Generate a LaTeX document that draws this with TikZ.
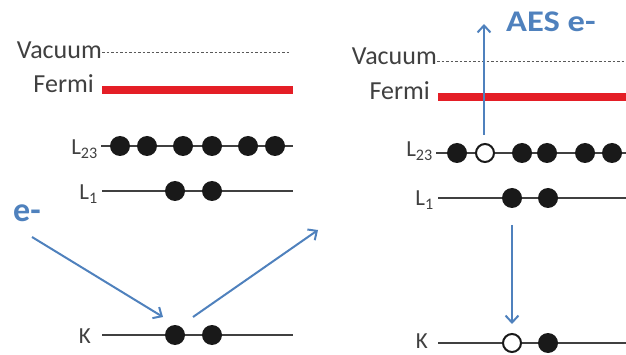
\documentclass[tikz,border=0pt]{standalone}
\usepackage{fontspec}
\setmainfont{Carlito}
\usetikzlibrary{arrows.meta}
\definecolor{aesblue}{RGB}{79,129,189}
\definecolor{fermired}{RGB}{228,30,38}
\definecolor{txtgray}{RGB}{64,64,64}
\begin{document}
\begin{tikzpicture}[x=1pt,y=-1pt,
  lbl/.style={font=\fontsize{26}{28}\selectfont, text=txtgray, inner sep=0pt, anchor=base east},
  shl/.style={font=\fontsize{23}{25}\selectfont, text=txtgray, inner sep=0pt, anchor=base east},
  level/.style={draw=black!75, line width=1.3pt},
  vac/.style={draw=black!65, dash pattern=on 2.5pt off 2pt, line width=1pt},
  fermi/.style={draw=fermired, line width=8pt},
  el/.style={circle, fill=black!90, minimum size=20pt, inner sep=0pt},
  hole/.style={circle, draw=black!90, fill=white, line width=2pt, minimum size=18pt, inner sep=0pt},
  beam/.style={draw=aesblue, line width=2pt, -{Straight Barb[length=7pt,width=13pt]}},
  bluetxt/.style={text=aesblue, inner sep=0pt, anchor=base west}
]
\useasboundingbox (0,0) rectangle (626,355);

% ---------------- left panel ----------------
\node[lbl] (vacA) at (102,59) {Vacuum};
\coordinate (vacAe) at (290,53);
\draw[vac] (vacA.east |- vacAe) -- (vacAe);

\node[lbl] (ferA) at (94,93) {Fermi};
\coordinate (ferAs) at (102,90);
\coordinate (ferAe) at (293,90);
\draw[fermi] (ferAs) -- (ferAe);

\node[shl] (l23A) at (98,155) {L\textsubscript{23}};
\coordinate (l23As) at (101,146);
\coordinate (l23Ae) at (293,146);
\draw[level] (l23As) -- (l23Ae);
\foreach \x [count=\i] in {120,147,183,212,248,275}
  \node[el] (a23\i) at (\x,146) {};

\node[shl] (l1A) at (98,200) {L\textsubscript{1}};
\coordinate (l1As) at (102,191);
\coordinate (l1Ae) at (293,191);
\draw[level] (l1As) -- (l1Ae);
\node[el] (a11) at (175,191) {};
\node[el] (a12) at (212,191) {};

\node[shl] (kA) at (91,343) {K};
\coordinate (kAs) at (102,335);
\coordinate (kAe) at (293,335);
\draw[level] (kAs) -- (kAe);
\node[el] (ak1) at (175,335) {};
\node[el] (ak2) at (212,335) {};

\node[bluetxt, font=\fontsize{34}{36}\selectfont\bfseries] (eA) at (13,222) {e-};
\coordinate (inS) at (32,237);
\coordinate (inE) at (163,317);
\coordinate (outS) at (193,317);
\coordinate (outE) at (318,230);
\draw[beam] (inS) -- (inE);
\draw[beam] (outS) -- (outE);

% ---------------- right panel ----------------
\node[lbl] (vacB) at (437,65) {Vacuum};
\coordinate (vacBe) at (626,62);
\draw[vac] (vacB.east |- vacBe) -- (vacBe);

\node[lbl] (ferB) at (430,100) {Fermi};
\coordinate (ferBs) at (438,97);
\coordinate (ferBe) at (626,97);
\draw[fermi] (ferBs) -- (ferBe);

\node[shl] (l23B) at (433,157) {L\textsubscript{23}};
\coordinate (l23Bs) at (436,153);
\coordinate (l23Be) at (626,153);
\draw[level] (l23Bs) -- (l23Be);
\node[el] (b231) at (457,153) {};
\node[hole] (b232) at (485,153) {};
\node[el] (b233) at (522,153) {};
\node[el] (b234) at (547,153) {};
\node[el] (b235) at (585,153) {};
\node[el] (b236) at (612,153) {};

\node[shl] (l1B) at (434,206) {L\textsubscript{1}};
\coordinate (l1Bs) at (438,198);
\coordinate (l1Be) at (626,198);
\draw[level] (l1Bs) -- (l1Be);
\node[el] (b11) at (512,198) {};
\node[el] (b12) at (548,198) {};

\node[shl] (kB) at (428,348) {K};
\coordinate (kBs) at (438,343);
\coordinate (kBe) at (626,343);
\draw[level] (kBs) -- (kBe);
\node[hole] (bk1) at (512,343) {};
\node[el] (bk2) at (548,343) {};

\node[bluetxt, font=\fontsize{30}{32}\selectfont\bfseries] (aes) at (506,32) {\scalebox{1.15}[1]{AES e-}};
\coordinate (upS) at (484,135);
\coordinate (upE) at (484,24);
\draw[beam] (upS) -- (upE);
\coordinate (dnS) at (512,225);
\coordinate (dnE) at (512,324);
\draw[beam] (dnS) -- (dnE);
\end{tikzpicture}
\end{document}
